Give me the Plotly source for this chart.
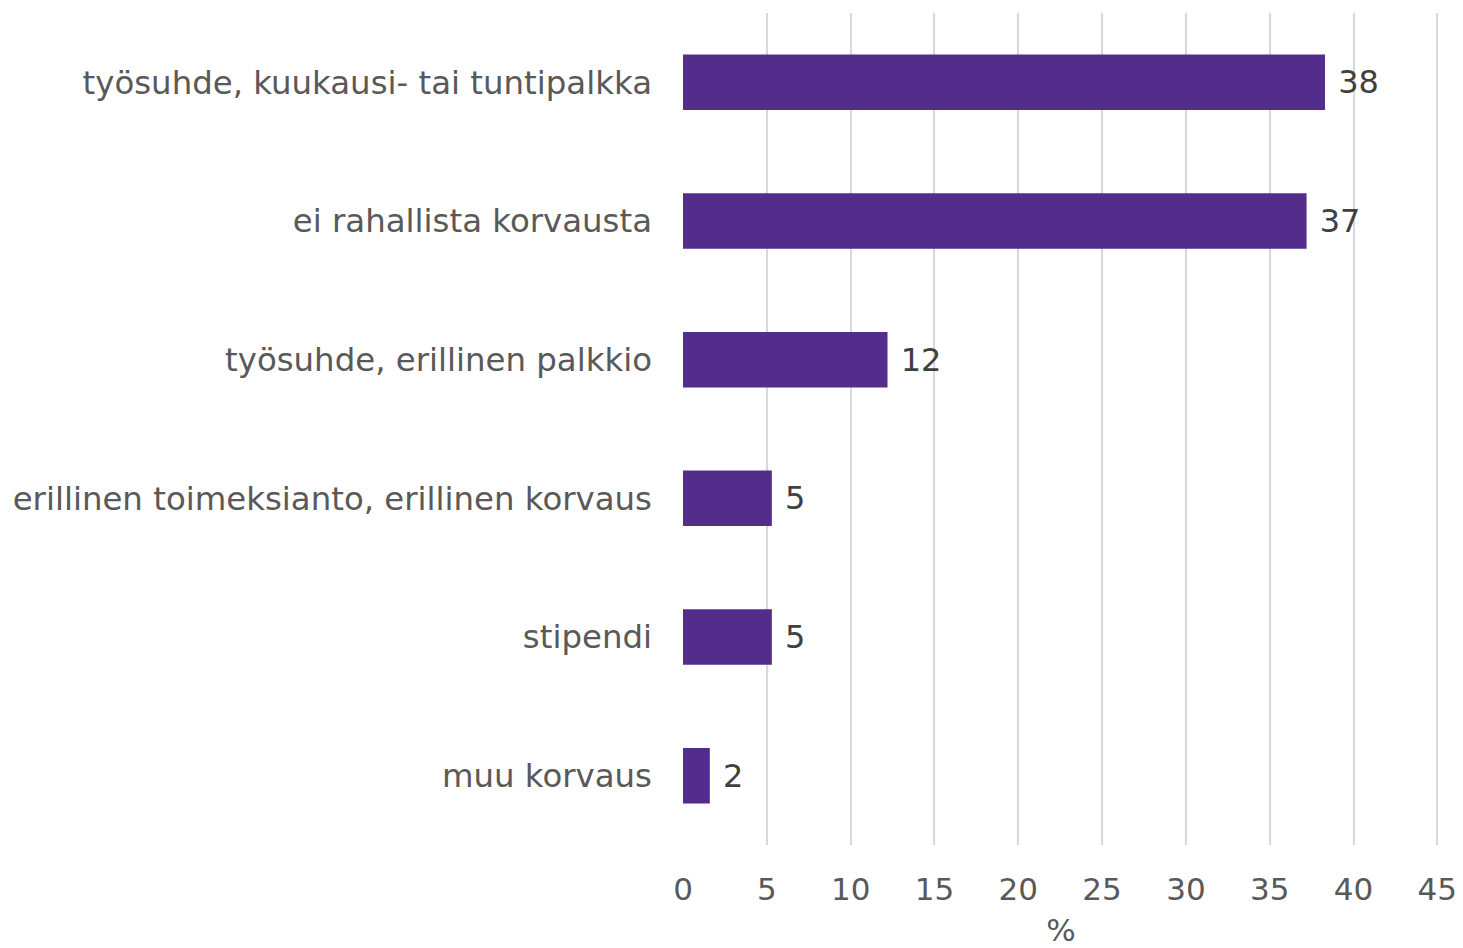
import plotly.graph_objects as go

categories = [
    "työsuhde, kuukausi- tai tuntipalkka",
    "ei rahallista korvausta",
    "työsuhde, erillinen palkkio",
    "erillinen toimeksianto, erillinen korvaus",
    "stipendi",
    "muu korvaus",
]
values = [38.3, 37.2, 12.2, 5.3, 5.3, 1.6]
tick_vals = [0, 5, 10, 15, 20, 25, 30, 35, 40, 45]

FONT = "DejaVu Sans"
GRAY = "#595959"

fig = go.Figure(
    go.Bar(
        x=values,
        y=categories,
        orientation="h",
        marker=dict(color="#532D8B", line=dict(width=0)),
        width=0.4,
        text=[f" {v:.0f}" for v in values],
        textposition="outside",
        textfont=dict(family=FONT, size=32, color="#404040"),
        cliponaxis=False,
    )
)

fig.update_layout(
    width=1455,
    height=940,
    margin=dict(l=675, r=24, t=5, b=103),
    plot_bgcolor="white",
    paper_bgcolor="white",
    showlegend=False,
    font=dict(family=FONT, size=30, color=GRAY),
    xaxis=dict(
        range=[0, 45.1],
        tickvals=tick_vals,
        showgrid=True,
        gridcolor="#D9D9D9",
        gridwidth=1.5,
        zeroline=False,
        showline=False,
        ticks="",
        automargin=False,
        ticklabelstandoff=23,
        ticklabeloverflow="allow",
        tickfont=dict(family=FONT, size=31, color=GRAY),
        title=dict(text="%", font=dict(family=FONT, size=31, color=GRAY), standoff=23),
    ),
    yaxis=dict(
        autorange="reversed",
        showgrid=False,
        zeroline=False,
        showline=False,
        ticks="",
        automargin=False,
        ticklabelstandoff=30,
        tickfont=dict(family=FONT, size=32.4, color=GRAY),
    ),
)

fig.write_html("out.html")
